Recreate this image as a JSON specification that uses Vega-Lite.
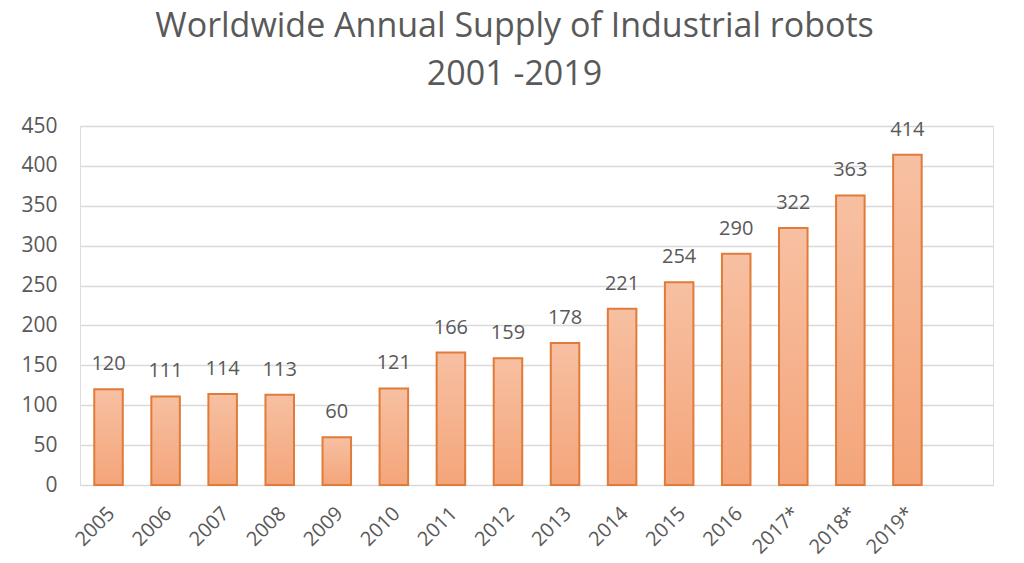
{
  "$schema": "https://vega.github.io/schema/vega-lite/v6.json",
  "width": 913,
  "height": 359,
  "autosize": {"type": "none"},
  "padding": {"left": 80, "top": 126, "right": 31, "bottom": 78},
  "background": "white",
  "title": {
    "text": ["Worldwide Annual Supply of Industrial robots", "2001 -2019"],
    "font": "Open Sans",
    "fontSize": 34,
    "fontWeight": "normal",
    "color": "#595959",
    "anchor": "middle",
    "frame": "group",
    "dx": -22,
    "offset": 23,
    "lineHeight": 48
  },
  "data": {
    "values": [
      {"year": "2005", "value": 120},
      {"year": "2006", "value": 111},
      {"year": "2007", "value": 114},
      {"year": "2008", "value": 113},
      {"year": "2009", "value": 60},
      {"year": "2010", "value": 121},
      {"year": "2011", "value": 166},
      {"year": "2012", "value": 159},
      {"year": "2013", "value": 178},
      {"year": "2014", "value": 221},
      {"year": "2015", "value": 254},
      {"year": "2016", "value": 290},
      {"year": "2017*", "value": 322},
      {"year": "2018*", "value": 363},
      {"year": "2019*", "value": 414}
    ]
  },
  "encoding": {
    "x": {
      "field": "year",
      "type": "ordinal",
      "sort": null,
      "scale": {
        "domain": ["2005", "2006", "2007", "2008", "2009", "2010", "2011", "2012", "2013", "2014", "2015", "2016", "2017*", "2018*", "2019*", ""],
        "paddingInner": 0.5,
        "paddingOuter": 0.25
      },
      "axis": {
        "title": null,
        "labelAngle": -45,
        "labelFont": "Open Sans",
        "labelFontSize": 20,
        "labelColor": "#595959",
        "labelPadding": 18,
        "labelOffset": -4,
        "ticks": false,
        "domain": false
      }
    },
    "y": {
      "field": "value",
      "type": "quantitative",
      "scale": {"domain": [0, 450]},
      "axis": {
        "title": null,
        "values": [0, 50, 100, 150, 200, 250, 300, 350, 400, 450],
        "labelFont": "Open Sans",
        "labelFontSize": 21,
        "labelColor": "#595959",
        "labelPadding": 23,
        "ticks": false,
        "domain": false,
        "gridColor": "#d9d9d9",
        "gridWidth": 1.5
      }
    }
  },
  "layer": [
    {
      "mark": {
        "type": "bar",
        "stroke": "#e07b39",
        "strokeWidth": 2,
        "fill": {
          "gradient": "linear",
          "x1": 0, "y1": 0, "x2": 0, "y2": 1,
          "stops": [
            {"offset": 0, "color": "#f7c0a2"},
            {"offset": 1, "color": "#f4a57a"}
          ]
        }
      }
    },
    {
      "mark": {
        "type": "text",
        "font": "Open Sans",
        "fontSize": 20,
        "color": "#595959",
        "baseline": "alphabetic",
        "dy": -19
      },
      "encoding": {"text": {"field": "value", "type": "quantitative"}}
    }
  ]
}
